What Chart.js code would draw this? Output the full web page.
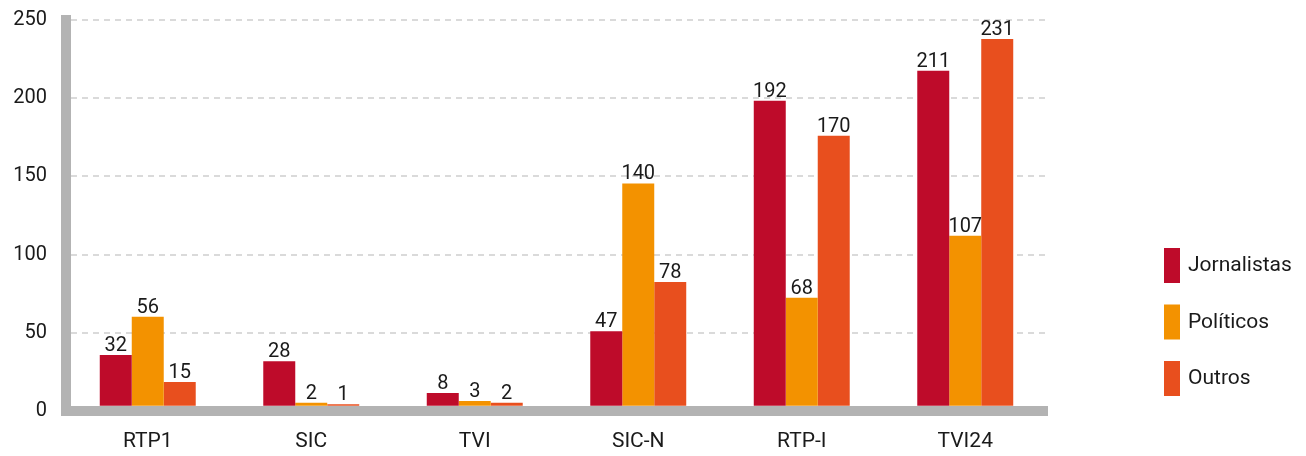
<!DOCTYPE html>
<html>
<head>
<meta charset="utf-8">
<script src="https://cdn.jsdelivr.net/npm/chart.js@4.4.1/dist/chart.umd.min.js"></script>
<style>
html,body{margin:0;padding:0;background:#ffffff;}
#wrap{width:1306px;height:456px;position:relative;}
canvas{display:block;}
</style>
</head>
<body>
<div id="wrap"><canvas id="c" width="1306" height="456"></canvas></div>
<script>
// ---- data ----
const categories = ['RTP1', 'SIC', 'TVI', 'SIC-N', 'RTP-I', 'TVI24'];
const jornalistas = [32, 28, 8, 47, 192, 211];
const politicos = [56, 2, 3, 140, 68, 107];
const outros = [15, 1, 2, 78, 170, 231];
const seriesNames = ['Jornalistas', 'Políticos', 'Outros'];
const yTickValues = [0, 50, 100, 150, 200, 250];

// ---- style ----
const FONT = 'Roboto, "Noto Sans", sans-serif';
const TEXT = '#1a1a1a';
const AXIS_GRAY = '#b3b3b3';
const seriesColors = ['#be0b2a', '#f39200', '#e84f1e'];

const seriesData = [jornalistas, politicos, outros];

const valueLabels = {
  id: 'valueLabels',
  afterDatasetsDraw(chart) {
    const ctx = chart.ctx;
    ctx.save();
    ctx.font = '20px ' + FONT;
    ctx.fillStyle = TEXT;
    ctx.textAlign = 'center';
    ctx.textBaseline = 'alphabetic';
    chart.data.datasets.forEach((ds, i) => {
      const meta = chart.getDatasetMeta(i);
      meta.data.forEach((bar, j) => {
        ctx.fillText(String(ds.data[j]), bar.x, bar.y - 4);
      });
    });
    ctx.restore();
  }
};

const sideLegend = {
  id: 'sideLegend',
  afterDraw(chart) {
    const ctx = chart.ctx;
    const area = chart.chartArea;
    const x = area.right + 117;
    const top0 = area.top + 228;
    const step = 56.5;
    ctx.save();
    ctx.font = '21px ' + FONT;
    ctx.textAlign = 'left';
    ctx.textBaseline = 'middle';
    chart.data.datasets.forEach((ds, i) => {
      const y = top0 + i * step;
      ctx.fillStyle = ds.backgroundColor;
      ctx.fillRect(x, y, 16, 35);
      ctx.fillStyle = TEXT;
      ctx.fillText(ds.label, x + 24, y + 18);
    });
    ctx.restore();
  }
};

new Chart(document.getElementById('c'), {
  type: 'bar',
  data: {
    labels: categories,
    datasets: seriesNames.map((name, i) => ({
      label: name,
      data: seriesData[i],
      backgroundColor: seriesColors[i],
      borderWidth: 0,
      yAxisID: 'yb',
      barPercentage: 1,
      categoryPercentage: 0.587
    }))
  },
  options: {
    responsive: false,
    devicePixelRatio: 1,
    animation: false,
    layout: { padding: { left: 10, right: 259, top: 20, bottom: 3 } },
    plugins: { legend: { display: false }, tooltip: { enabled: false } },
    scales: {
      x: {
        afterFit(s) { s.height = 42; },
        grid: { display: false, drawTicks: false },
        border: { display: true, color: AXIS_GRAY, width: 10, z: 1 },
        ticks: { color: TEXT, font: { family: FONT, size: 21 }, padding: 18 }
      },
      y: {
        min: 0,
        max: 250,
        afterBuildTicks(s) { s.ticks = yTickValues.map(v => ({ value: v })); },
        afterFit(s) { s.width = 56; s.paddingTop = 0; s.paddingBottom = 0; },
        grid: { color: '#dadada', lineWidth: 2, drawTicks: false },
        border: { display: true, color: AXIS_GRAY, width: 10, z: 1, dash: [6, 5] },
        ticks: { color: TEXT, font: { family: FONT, size: 20 }, padding: 19 }
      },
      yb: {
        type: 'linear',
        display: false,
        min: -3.27,
        max: 242.9
      }
    }
  },
  plugins: [valueLabels, sideLegend]
});
</script>
</body>
</html>
